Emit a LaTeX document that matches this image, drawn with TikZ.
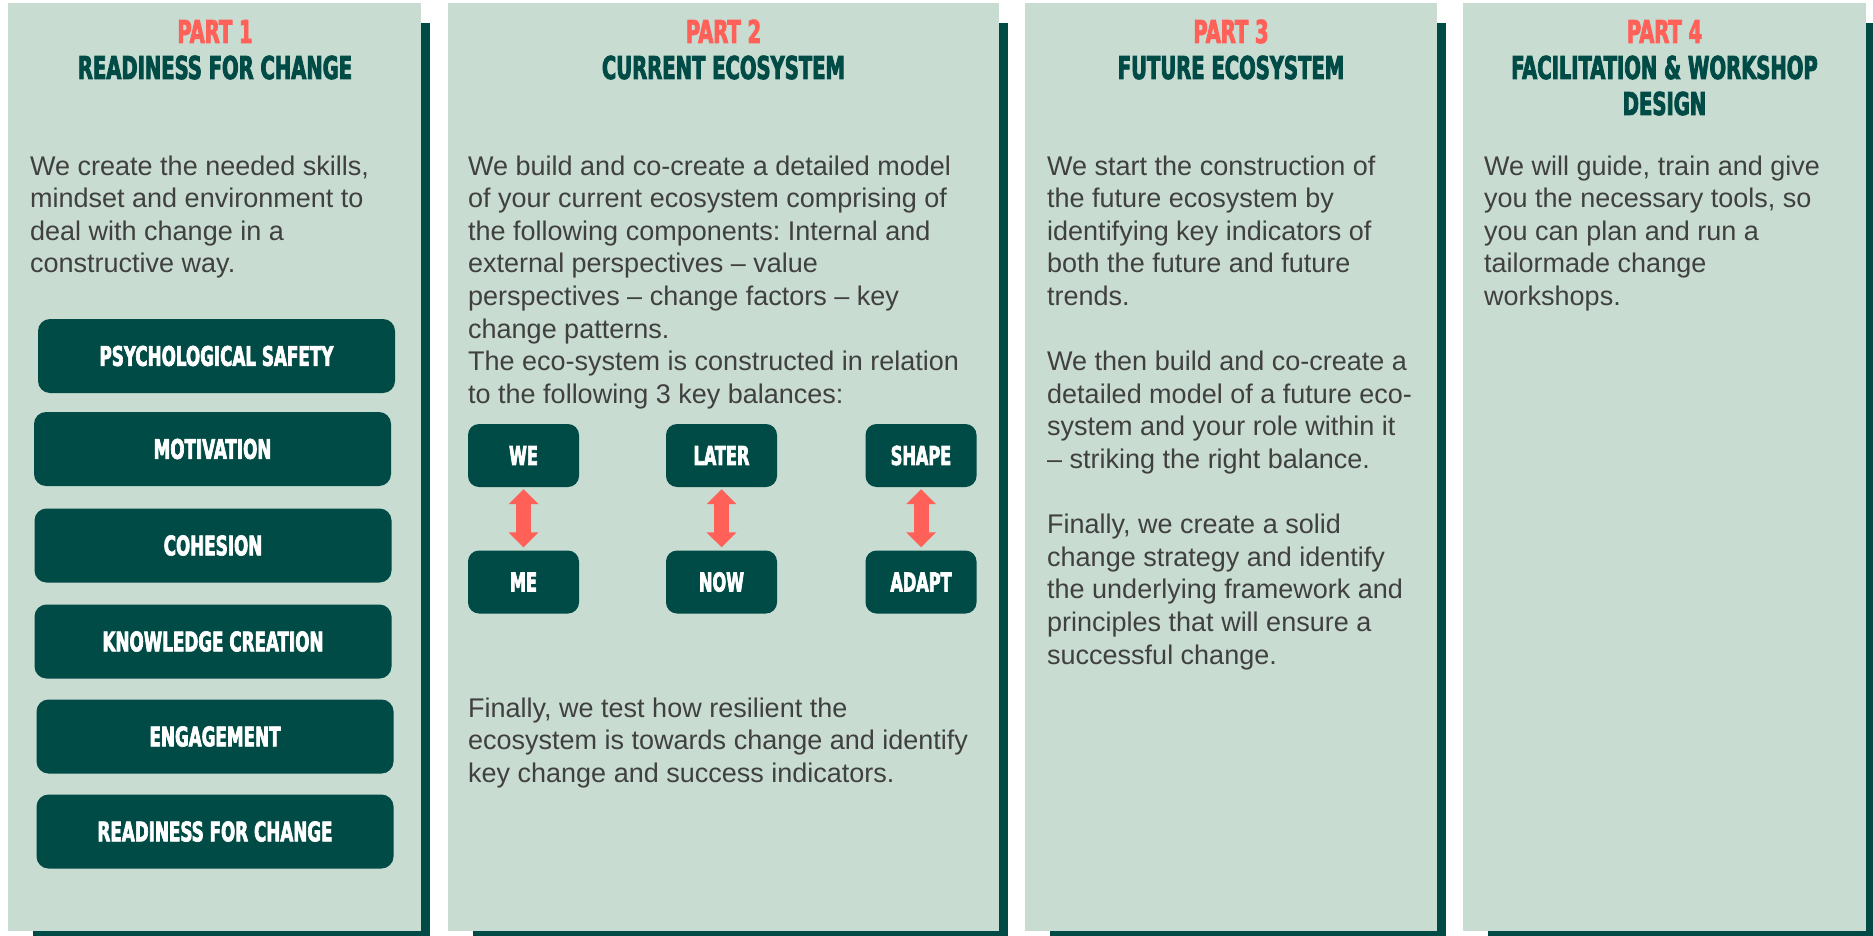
\documentclass[tikz,border=0pt]{standalone}
\usepackage{fontspec}
\setmainfont{Liberation Sans}
\newfontfamily\headfont[FakeStretch=0.69,FakeBold=2.5]{DejaVu Sans Condensed}
\usetikzlibrary{arrows.meta}
\definecolor{panelgreen}{HTML}{C8DCD2}
\definecolor{darkteal}{HTML}{004B45}
\definecolor{coral}{HTML}{FF6159}
\definecolor{bodygrey}{HTML}{404040}
\tikzset{
  heading/.style={align=center, inner sep=0pt, anchor=base, text=darkteal,
    font=\headfont\bfseries\fontsize{31.5}{36}\selectfont},
  body/.style={align=left, inner sep=0pt, anchor=base west, text=bodygrey,
    font=\frenchspacing\fontsize{27}{32.6}\selectfont},
  factorbox/.style={fill=darkteal, rounded corners=12pt, minimum width=357pt,
    minimum height=74pt, text=white, font=\headfont\bfseries\fontsize{27}{30}\selectfont},
  balancebox/.style={fill=darkteal, rounded corners=11pt, minimum width=111pt,
    minimum height=63pt, text=white, font=\headfont\bfseries\fontsize{26}{30}\selectfont},
  balancearrow/.style={draw=coral, line width=15pt, line cap=butt,
    {Triangle[width=29pt,length=15pt,fill=coral]}-{Triangle[width=29pt,length=15pt,fill=coral]},
    shorten <=2pt, shorten >=3pt},
}
\begin{document}
\begin{tikzpicture}[x=1pt, y=-1pt]
\useasboundingbox (0,0) rectangle (1873,936);
\clip (0,0) rectangle (1873,936);

% panels with their shadows
\foreach \l/\r in {8/421, 448/999, 1025/1437, 1463/1866}{
  \fill[darkteal] (\l+25,23) rectangle (\r+9,950);
  \fill[panelgreen] (\l,3) rectangle (\r,931);
}

% part 1 (nodes sit on the baseline of their last line)
\node[heading] (part1) at (215,79) {\textcolor{coral}{PART 1}\\READINESS FOR CHANGE};
\node[body] (intro1) at (30,272.8) {We create the needed skills,\\mindset and environment to\\deal with change in a\\constructive way.};
\node[factorbox] (safety) at (216.5,356) {PSYCHOLOGICAL SAFETY};
\node[factorbox] (motivation) at (212.5,449) {MOTIVATION};
\node[factorbox] (cohesion) at (213,545.5) {COHESION};
\node[factorbox] (knowledge) at (213,641.5) {KNOWLEDGE CREATION};
\node[factorbox] (engagement) at (215,736.5) {ENGAGEMENT};
\node[factorbox] (readiness) at (215,831.5) {READINESS FOR CHANGE};

% part 2
\node[heading] (part2) at (723.5,79) {\textcolor{coral}{PART 2}\\CURRENT ECOSYSTEM};
\node[body] (intro2) at (468,403.2) {We build and co-create a detailed model\\of your current ecosystem comprising of\\the following components: Internal and\\external perspectives – value\\perspectives – change factors – key\\change patterns.\\The eco-system is constructed in relation\\to the following 3 key balances:};
\foreach \top/\bot/\x in {WE/ME/523.5, LATER/NOW/721.5, SHAPE/ADAPT/921}{
  \node[balancebox] (\top) at (\x,455.5) {\top};
  \node[balancebox] (\bot) at (\x,582) {\bot};
  \draw[balancearrow] (\top) -- (\bot);
}
\node[body] (outro2) at (468,782.2) {Finally, we test how resilient the\\ecosystem is towards change and identify\\key change and success indicators.};

% part 3
\node[heading] (part3) at (1231,79) {\textcolor{coral}{PART 3}\\FUTURE ECOSYSTEM};
\node[body] (intro3) at (1047,664) {We start the construction of\\the future ecosystem by\\identifying key indicators of\\both the future and future\\trends.\\[32.6pt]We then build and co-create a\\detailed model of a future eco-\\system and your role within it\\– striking the right balance.\\[32.6pt]Finally, we create a solid\\change strategy and identify\\the underlying framework and\\principles that will ensure a\\successful change.};

% part 4
\node[heading] (part4) at (1664.5,115) {\textcolor{coral}{PART 4}\\FACILITATION \& WORKSHOP\\DESIGN};
\node[body] (intro4) at (1484,305.4) {We will guide, train and give\\you the necessary tools, so\\you can plan and run a\\tailormade change\\workshops.};

\end{tikzpicture}
\end{document}
